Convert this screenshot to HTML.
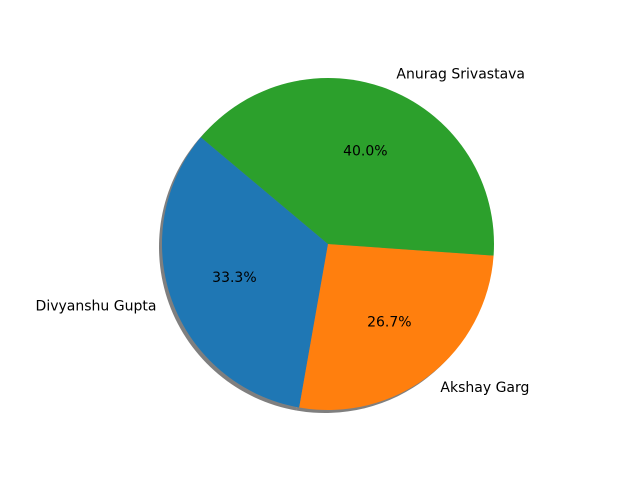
<!DOCTYPE html>
<html><head><meta charset="utf-8"><style>
html,body{margin:0;padding:0;background:#fff;}
svg text{font-family:"DejaVu Sans","Liberation Sans",sans-serif;font-size:14px;fill:#000;}
</style></head><body>
<svg id="chart" width="640" height="480" viewBox="0 0 640 480" xmlns="http://www.w3.org/2000/svg">
<rect width="640" height="480" fill="#fff"/>
<g id="shadow"></g>
<g id="slices"></g>
<g id="labels"></g>
</svg>
<script>
const categories = ["Divyanshu Gupta", "Akshay Garg", "Anurag Srivastava"];
const values = [5, 4, 6];
const colors = ["#1f77b4", "#ff7f0e", "#2ca02c"];
const startAngle = 140;
const cx = 328, cy = 244, R = 166;
const NS = "http://www.w3.org/2000/svg";
const total = values.reduce((a,b)=>a+b,0);
function pt(deg, r, ox, oy){const a=deg*Math.PI/180;return [ox+r*Math.cos(a), oy-r*Math.sin(a)];}
function arcPath(a0,a1,ox,oy){
  const p0=pt(a0,R,ox,oy), p1=pt(a1,R,ox,oy);
  const large=(a1-a0)>180?1:0;
  return `M${ox},${oy} L${p0[0]},${p0[1]} A${R},${R} 0 ${large} 0 ${p1[0]},${p1[1]} Z`;
}
const sh=document.getElementById('shadow'), sl=document.getElementById('slices'), lb=document.getElementById('labels');
let a=startAngle;
values.forEach((v,i)=>{
  const span=v/total*360, a0=a, a1=a+span, mid=(a0+a1)/2;
  const s=document.createElementNS(NS,'path');
  s.setAttribute('d',arcPath(a0,a1,cx-3,cy+3));
  s.setAttribute('fill','#000');s.setAttribute('fill-opacity','0.5');
  
  
  sh.appendChild(s);
  const p=document.createElementNS(NS,'path');
  p.setAttribute('d',arcPath(a0,a1,cx,cy));
  p.setAttribute('fill',colors[i]);
  
  
  sl.appendChild(p);
  const lp=pt(mid,R*1.1,cx,cy);
  const t=document.createElementNS(NS,'text');
  t.setAttribute('x',lp[0]);t.setAttribute('y',lp[1]);
  t.setAttribute('dominant-baseline','central');
  t.setAttribute('text-anchor',Math.cos(mid*Math.PI/180)>=0?'start':'end');
  t.textContent=categories[i];
  
  
  lb.appendChild(t);
  const pp=pt(mid,R*0.6,cx,cy);
  const q=document.createElementNS(NS,'text');
  q.setAttribute('x',pp[0]);q.setAttribute('y',pp[1]);
  q.setAttribute('dominant-baseline','central');
  q.setAttribute('text-anchor','middle');
  q.textContent=(v/total*100).toFixed(1)+'%';
  
  
  lb.appendChild(q);
  a=a1;
});
</script>
</body></html>
